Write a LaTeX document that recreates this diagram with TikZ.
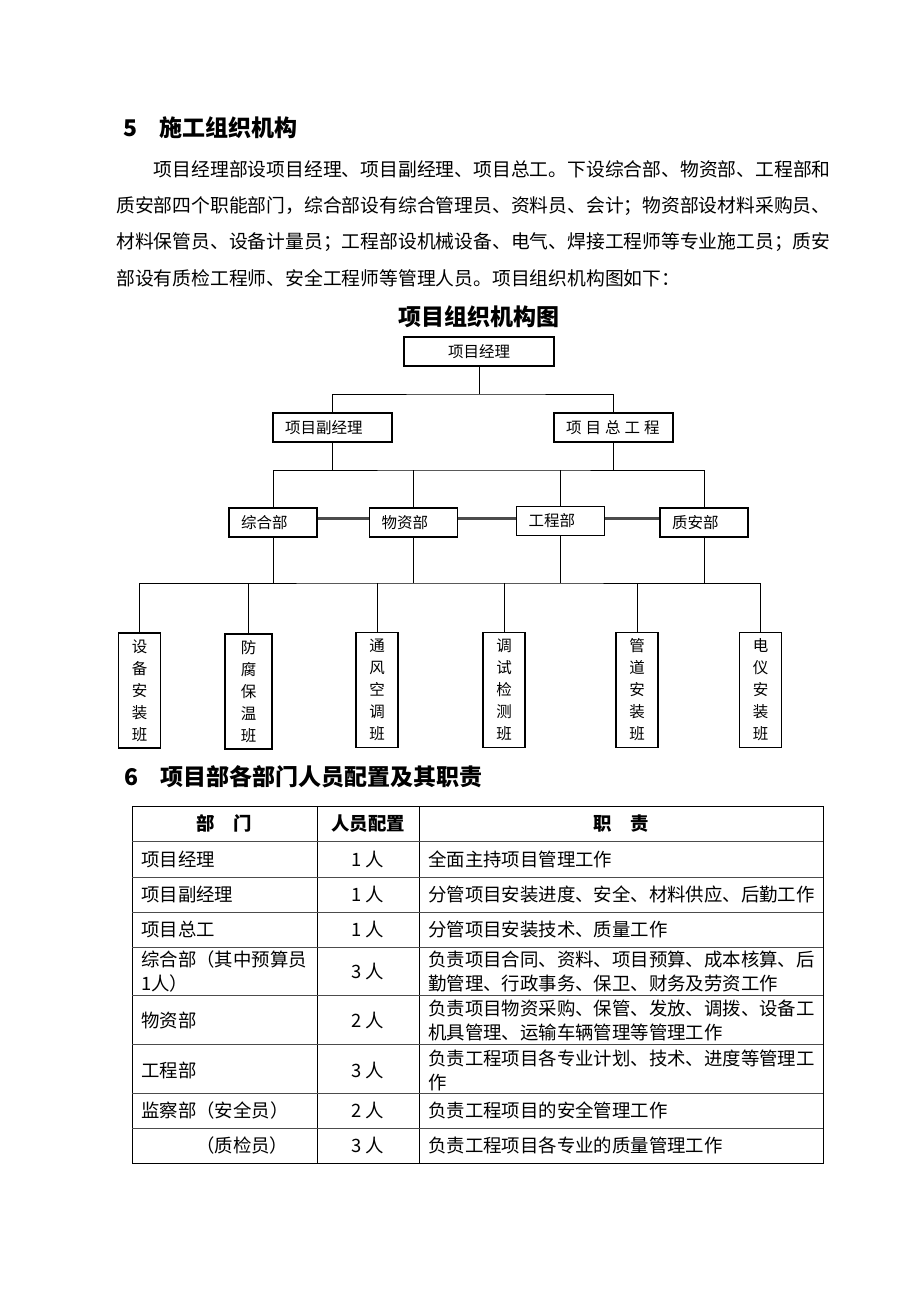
\documentclass[tikz,border=0pt]{standalone}
\usepackage{fontspec}
\setmainfont{Noto Sans CJK SC}
\usepackage{tikz}
\usetikzlibrary{positioning}

\begin{document}
\begin{tikzpicture}[x=1pt, y=-1pt,
  body/.style={anchor=west, inner sep=0pt, font=\fontsize{18.8}{24}\selectfont},
  head/.style={anchor=west, inner sep=0pt, font=\fontsize{23}{28}\selectfont\bfseries},
  orgbox/.style={draw, line width=1.1pt, minimum height=29pt, inner sep=0pt, font=\fontsize{15.5}{18}\selectfont},
  leftbox/.style={orgbox, inner xsep=12pt, align=left},
  teambox/.style={draw, line width=1.1pt, minimum width=42pt, minimum height=115pt, inner sep=0pt, align=center, font=\fontsize{15.5}{22}\selectfont},
  link/.style={line width=0.9pt},
  deptlink/.style={line width=2.2pt, black!70},
  cell/.style={anchor=west, inner sep=0pt, align=left, font=\fontsize{18.4}{24}\selectfont},
  num/.style={inner sep=0pt, font=\fontsize{18.4}{24}\selectfont}]

\fill[white] (0,0) rectangle (920,1302);
\useasboundingbox (0,0) rectangle (920,1302);

% Section 5
\node[head] (h5) at (123,128) {5\hspace{22pt}施工组织机构};
\node[body] (p1) at (153.6,169) {项目经理部设项目经理、项目副经理、项目总工。下设综合部、物资部、工程部和};
\node[body] (p2) at (116,206) {质安部四个职能部门，综合部设有综合管理员、资料员、会计；物资部设材料采购员、};
\node[body] (p3) at (116,242) {材料保管员、设备计量员；工程部设机械设备、电气、焊接工程师等专业施工员；质安};
\node[body] (p4) at (116,278) {部设有质检工程师、安全工程师等管理人员。项目组织机构图如下：};

% Chart title
\node[head, anchor=center] (title) at (479,317) {项目组织机构图};

% Management
\node[orgbox, minimum width=150pt] (pm) at (479,351.5) {项目经理};
\node[leftbox, text width=95pt] (vice) at (332.5,427.5) {项目副经理};
\node[leftbox, text width=95pt] (chief) at (613.5,427.5) {项\kern4pt 目\kern4pt 总\kern4pt 工\kern4pt 程};

% Departments
\node[leftbox, text width=64pt] (zh) at (273,522.5) {综合部};
\node[leftbox, text width=64pt] (wz) at (413.5,522.5) {物资部};
\node[leftbox, text width=64pt] (gc) at (560.5,521) {工程部};
\node[leftbox, text width=64pt] (za) at (704,522.5) {质安部};

% Teams
\node[teambox] (t1) at (139.5,690.5) {设\\备\\安\\装\\班};
\node[teambox, minimum width=47pt] (t2) at (248.5,691.5) {防\\腐\\保\\温\\班};
\node[teambox] (t3) at (377,690) {通\\风\\空\\调\\班};
\node[teambox] (t4) at (504,690) {调\\试\\检\\测\\班};
\node[teambox] (t5) at (637,690) {管\\道\\安\\装\\班};
\node[teambox] (t6) at (760.5,690) {电\\仪\\安\\装\\班};

% Connectors
\coordinate (bus1) at (479,394);
\coordinate (bus2) at (479,470);
\coordinate (bus3) at (450,583);
\draw[link] (pm.south) -- (pm.south |- bus1);
\draw[link] (vice.north) |- (bus1) -| (chief.north);
\draw[link] (vice.south) -- (vice.south |- bus2);
\draw[link] (chief.south) -- (chief.south |- bus2);
\draw[link] (zh.north) |- (bus2) -| (za.north);
\draw[link] (wz.north) -- (wz.north |- bus2);
\draw[link] (gc.north) -- (gc.north |- bus2);
\draw[deptlink] ([yshift=4pt]zh.east) -- ([yshift=4pt]wz.west);
\draw[deptlink] ([yshift=4pt]wz.east) -- ([yshift=4pt]wz.east -| gc.west);
\draw[deptlink] ([yshift=4pt]za.west -| gc.east) -- ([yshift=4pt]za.west);
\draw[link] (zh.south) -- (zh.south |- bus3);
\draw[link] (wz.south) -- (wz.south |- bus3);
\draw[link] (gc.south) -- (gc.south |- bus3);
\draw[link] (za.south) -- (za.south |- bus3);
\draw[link] (t1.north) |- (bus3) -| (t6.north);
\draw[link] (t2.north) -- (t2.north |- bus3);
\draw[link] (t3.north) -- (t3.north |- bus3);
\draw[link] (t4.north) -- (t4.north |- bus3);
\draw[link] (t5.north) -- (t5.north |- bus3);

% Section 6
\node[head] (h6) at (124,777) {6\hspace{22pt}项目部各部门人员配置及其职责};

% Table grid
\draw[line width=1pt] (132,806) rectangle (823,1163);
\draw[line width=0.9pt] (317,806) -- (317,1163) (419,806) -- (419,1163);
\draw[line width=0.9pt, black!70] (132,841) -- (823,841) (132,877) -- (823,877)
  (132,912) -- (823,912) (132,947) -- (823,947) (132,995) -- (823,995)
  (132,1044) -- (823,1044) (132,1093) -- (823,1093) (132,1128) -- (823,1128);

% Table header
\node[num, font=\fontsize{18.4}{24}\selectfont\bfseries] (hd1) at (224.5,823.5) {部　门};
\node[num, font=\fontsize{18.4}{24}\selectfont\bfseries] (hd2) at (368,823.5) {人员配置};
\node[num, font=\fontsize{18.4}{24}\selectfont\bfseries] (hd3) at (621,823.5) {职　责};

% Table rows
\node[cell] (r1a) at (141,859) {项目经理};
\node[num] (r1b) at (368,859) {1 人};
\node[cell] (r1c) at (428,859) {全面主持项目管理工作};
\node[cell] (r2a) at (141,894.5) {项目副经理};
\node[num] (r2b) at (368,894.5) {1 人};
\node[cell] (r2c) at (428,894.5) {分管项目安装进度、安全、材料供应、后勤工作};
\node[cell] (r3a) at (141,929.5) {项目总工};
\node[num] (r3b) at (368,929.5) {1 人};
\node[cell] (r3c) at (428,929.5) {分管项目安装技术、质量工作};
\node[cell] (r4a) at (141,971.5) {综合部（其中预算员\\1人）};
\node[num] (r4b) at (368,971.5) {3 人};
\node[cell] (r4c) at (428,971.5) {负责项目合同、资料、项目预算、成本核算、后\\勤管理、行政事务、保卫、财务及劳资工作};
\node[cell] (r5a) at (141,1020.5) {物资部};
\node[num] (r5b) at (368,1020.5) {2 人};
\node[cell] (r5c) at (428,1020.5) {负责项目物资采购、保管、发放、调拨、设备工\\机具管理、运输车辆管理等管理工作};
\node[cell] (r6a) at (141,1070) {工程部};
\node[num] (r6b) at (368,1070) {3 人};
\node[cell] (r6c) at (428,1070) {负责工程项目各专业计划、技术、进度等管理工\\作};
\node[cell] (r7a) at (141,1110.5) {监察部（安全员）};
\node[num] (r7b) at (368,1110.5) {2 人};
\node[cell] (r7c) at (428,1110.5) {负责工程项目的安全管理工作};
\node[cell] (r8a) at (196,1145.5) {（质检员）};
\node[num] (r8b) at (368,1145.5) {3 人};
\node[cell] (r8c) at (428,1145.5) {负责工程项目各专业的质量管理工作};
\end{tikzpicture}
\end{document}
